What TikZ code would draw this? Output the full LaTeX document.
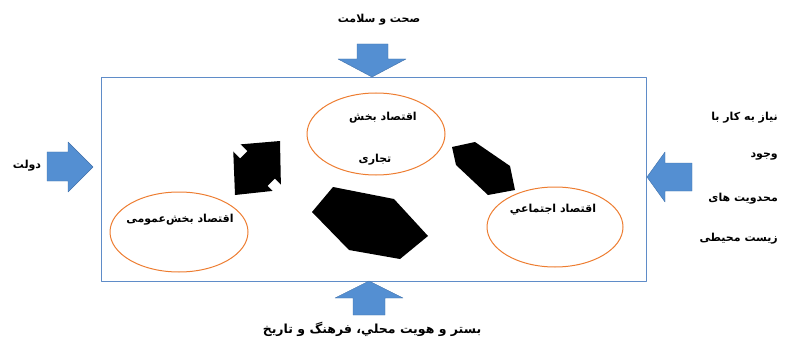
\documentclass[tikz,border=0pt]{standalone}
\usepackage{fontspec}
\newfontfamily\arabicfont[Script=Arabic]{DejaVu Sans}
\TeXXeTstate=1
\definecolor{arrowblue}{RGB}{84,143,210}
\definecolor{arrowedge}{RGB}{65,113,170}
\definecolor{frameblue}{RGB}{95,140,200}
\definecolor{ringorange}{RGB}{237,125,49}
\tikzset{
    blockarrow/.style = {fill=arrowblue, draw=arrowedge, line width=0.4pt},
    ring/.style = {draw=ringorange, line width=1pt},
    fatext/.style = {font=\arabicfont\bfseries\fontsize{11}{13}\selectfont, inner sep=0pt},
    blob/.style = {fill=black}
}

\begin{document}
\begin{tikzpicture}[line cap=round,line join=round,x=1pt,y=-1pt]
    \useasboundingbox (0,0) rectangle (787,342);

    % frame
    \draw [frameblue, line width=1pt] (101,78) rectangle (646,281);

    % block arrows
    \filldraw [blockarrow] (357,44) -- (388,44) -- (388,59) -- (406,59) -- (372,77) -- (338,59) -- (357,59) -- cycle;
    \filldraw [blockarrow] (353,315) -- (385,315) -- (385,298) -- (403,298) -- (369,281) -- (335,298) -- (353,298) -- cycle;
    \filldraw [blockarrow] (47,152) -- (68,152) -- (68,142) -- (93,167) -- (68,192) -- (68,181) -- (47,181) -- cycle;
    \filldraw [blockarrow] (692,163) -- (665,163) -- (665,152) -- (647,177) -- (665,202) -- (665,191) -- (692,191) -- cycle;

    % rings
    \draw [ring] (376,134) ellipse [x radius=69pt, y radius=41pt];
    \draw [ring] (179,232) ellipse [x radius=69pt, y radius=40pt];
    \draw [ring] (555,227) ellipse [x radius=68pt, y radius=40pt];

    % black shapes
    \fill [blob] (233,145) -- (280,141) -- (281,190) -- (235,195) -- cycle;
    \fill [white, rotate around={-45:(238,149)}] (230,144) rectangle (246,154);
    \fill [white, rotate around={-45:(277,188)}] (269,183) rectangle (285,193);
    \fill [blob] (312,212) -- (333,187) -- (394,199) -- (428,236) -- (400,259) -- (349,250) -- cycle;
    \fill [blob] (452,147) -- (475,142) -- (510,166) -- (515,190) -- (488,195) -- (456,165) -- cycle;

    % texts
    \node [fatext] (health) at (379,20) {\beginR صحت و سلامت\endR};
    \node [fatext] (state) at (27,166) {\beginR دولت\endR};
    \node [fatext, font=\arabicfont\bfseries\fontsize{12.5}{14}\selectfont] (roots) at (372,329) {\beginR بستر و هویت محلي، فرهنگ و تاریخ\endR};
    \node [fatext, anchor=east] (need1) at (778,118) {\beginR نیاز به کار با\endR};
    \node [fatext, anchor=east] (need2) at (778,157) {\beginR وجود\endR};
    \node [fatext, anchor=east] (need3) at (778,199) {\beginR محدویت های\endR};
    \node [fatext, anchor=east] (need4) at (778,239) {\beginR زیست محیطی\endR};
    \node [fatext] (trade1) at (383,118) {\beginR اقتصاد بخش\endR};
    \node [fatext] (trade2) at (375,160) {\beginR تجاری\endR};
    \node [fatext] (public) at (180,220) {\beginR اقتصاد بخش‌عمومی\endR};
    \node [fatext] (social) at (553,210) {\beginR اقتصاد اجتماعي\endR};
\end{tikzpicture}
\end{document}
